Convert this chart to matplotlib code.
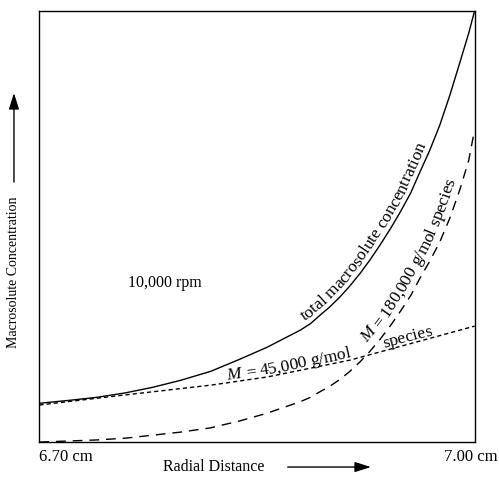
import numpy as np
import matplotlib
matplotlib.use("Agg")
import matplotlib.pyplot as plt
from matplotlib.font_manager import FontProperties
from matplotlib.transforms import IdentityTransform, offset_copy
from matplotlib.patches import FancyArrowPatch

plt.rcParams["font.family"] = ["Liberation Serif", "DejaVu Serif"]

# radial distance (cm) and concentration (arbitrary units, 0..1)
r_total = [6.700, 6.721, 6.740, 6.759, 6.778, 6.797, 6.818, 6.838, 6.857, 6.880,
           6.887, 6.893, 6.900, 6.907, 6.914, 6.921, 6.928, 6.935, 6.942, 6.949,
           6.956, 6.962, 6.969, 6.976, 6.983, 6.990, 6.996, 7.000]
c_total = [0.090, 0.097, 0.104, 0.114, 0.127, 0.143, 0.164, 0.192, 0.220, 0.260,
           0.275, 0.293, 0.313, 0.336, 0.362, 0.391, 0.423, 0.458, 0.495, 0.535,
           0.578, 0.624, 0.676, 0.735, 0.805, 0.882, 0.949, 1.000]

r_45k = [6.700, 6.758, 6.818, 6.857, 6.914, 7.000]
c_45k = [0.086, 0.109, 0.132, 0.151, 0.190, 0.269]

r_180k = [6.700, 6.740, 6.759, 6.778, 6.797, 6.818, 6.838, 6.857, 6.880, 6.887,
          6.893, 6.900, 6.907, 6.914, 6.921, 6.928, 6.935, 6.942, 6.949, 6.956,
          6.962, 6.969, 6.976, 6.983, 6.990, 6.996, 7.000]
c_180k = [0.000, 0.005, 0.009, 0.016, 0.023, 0.033, 0.049, 0.067, 0.094, 0.104,
          0.116, 0.129, 0.145, 0.164, 0.186, 0.211, 0.239, 0.270, 0.304, 0.340,
          0.378, 0.419, 0.464, 0.520, 0.587, 0.654, 0.724]

tick_pos = [6.70, 7.00]
tick_labels = ["6.70 cm", "7.00 cm"]

FS = 11.5
FS_CURVE = 12.5


def text_along(ax, xs, ys, chunks, x_start, offset, size=FS_CURVE):
    """Lay text character by character along a curve (offset to its upper-left side)."""
    renderer = ax.figure.canvas.get_renderer()
    pts = ax.transData.transform(np.column_stack([xs, ys]))
    seg = np.hypot(*np.diff(pts, axis=0).T)
    cum = np.concatenate([[0], np.cumsum(seg)])

    def at(u):
        return np.array([np.interp(u, cum, pts[:, 0]), np.interp(u, cum, pts[:, 1])])

    u = np.interp(x_start, xs, cum)
    for chunk, style in chunks:
        fp = FontProperties(family="Liberation Serif", style=style, size=size)
        ref = renderer.get_text_width_height_descent("oo", fp, ismath=False)[0]
        for ch in chunk:
            w = renderer.get_text_width_height_descent("o" + ch + "o", fp, ismath=False)[0] - ref
            p0, p1 = at(u), at(u + w)
            d = p1 - p0
            ang = np.degrees(np.arctan2(d[1], d[0]))
            n = np.array([-d[1], d[0]]) / (np.hypot(*d) + 1e-9)
            c = (p0 + p1) / 2 + n * offset
            ax.text(c[0], c[1], ch, fontproperties=fp, transform=IdentityTransform(),
                    rotation=ang, rotation_mode="anchor", ha="center", va="baseline")
            u += w


fig = plt.figure(figsize=(4.99, 4.80), dpi=100)
ax = fig.add_axes([0.079, 0.079, 0.872, 0.898])

ax.plot(r_total, c_total, color="black", lw=1.0)
ax.plot(r_45k, c_45k, color="black", lw=1.0, dashes=(3.0, 2.2))
ax.plot(r_180k, c_180k, color="black", lw=1.0, dashes=(7.0, 5.0))

ax.set_xlim(6.70, 7.00)
ax.set_ylim(0, 1.0)
ax.set_xticks([])
ax.set_yticks([])
for s in ax.spines.values():
    s.set_linewidth(1.0)

# x tick labels (first one starts at the axis edge, the last one sits a bit left of centre)
xt = ax.get_xaxis_transform()
ax.text(tick_pos[0], 0, tick_labels[0], fontsize=12, ha="left", va="center",
        transform=offset_copy(xt, fig=fig, x=0, y=-15, units="dots"))
ax.text(tick_pos[1], 0, tick_labels[1], fontsize=12, ha="center", va="center",
        transform=offset_copy(xt, fig=fig, x=-4, y=-15, units="dots"))

ax.text(6.7866, 0.37, "10,000 rpm", fontsize=FS, ha="center", va="center")

text_along(ax, r_total, c_total, [("total macrosolute concentration", "normal")], 6.885, 5)
text_along(ax, r_180k, c_180k, [("M", "italic"), (" = 180,000 g/mol species", "normal")], 6.930, 7)
text_along(ax, r_45k, c_45k, [("M", "italic"), (" = 45,000 g/mol", "normal")], 6.830, 2.5)
text_along(ax, r_45k, c_45k, [("species", "normal")], 6.938, 2.5)

fig.text(0.028, 0.433, "Macrosolute Concentration", fontsize=10,
         rotation=90, ha="center", va="center")
fig.text(0.429, 0.027, "Radial Distance", fontsize=FS, ha="center", va="center")

arrow = dict(arrowstyle="-|>,head_length=0.7,head_width=0.22", color="black", lw=1.0,
             mutation_scale=14, transform=fig.transFigure)
fig.add_artist(FancyArrowPatch((0.028, 0.615), (0.028, 0.812), **arrow))
fig.add_artist(FancyArrowPatch((0.571, 0.027), (0.749, 0.027), **arrow))

fig.savefig("out.png", dpi=100)
